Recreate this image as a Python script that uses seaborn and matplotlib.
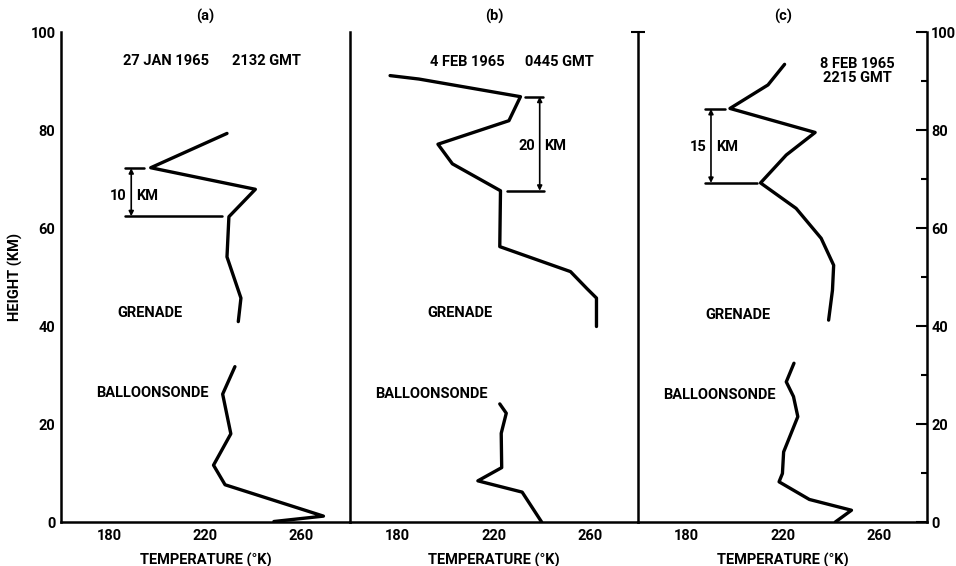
import matplotlib
matplotlib.use("Agg")
import matplotlib.pyplot as plt
import seaborn as sns
import numpy as np

# ---------------- data ----------------
panel_labels = ["(a)", "(b)", "(c)"]
date_labels = ["27 JAN 1965", "4 FEB 1965", "8 FEB 1965\n2215 GMT"]
time_labels = ["2132 GMT", "0445 GMT", ""]

# panel (a)
gren_a_T = [229.0, 197.3, 240.8, 229.8, 229.0, 234.8, 233.7]
gren_a_h = [79.3, 72.3, 67.9, 62.3, 54.1, 45.7, 40.9]
ball_a_T = [232.3, 227.2, 230.6, 223.4, 228.2, 269.1, 248.5]
ball_a_h = [31.7, 26.1, 18.0, 11.6, 7.6, 1.2, 0.1]

# panel (b)
gren_b_T = [176.8, 188.8, 231.0, 226.2, 196.7, 202.7, 222.7, 222.4, 251.8, 258.7, 262.6, 262.6]
gren_b_h = [91.1, 90.4, 86.8, 81.9, 77.1, 73.1, 67.6, 56.2, 51.1, 47.6, 45.7, 39.9]
ball_b_T = [222.4, 225.1, 223.0, 223.2, 213.3, 231.7, 239.8]
ball_b_h = [24.1, 22.2, 18.1, 11.1, 8.4, 6.1, 0.0]

# panel (c)
gren_c_T = [220.8, 213.9, 198.1, 233.5, 221.5, 210.8, 225.6, 236.0, 241.2, 240.7, 239.1]
gren_c_h = [93.4, 89.2, 84.4, 79.5, 74.9, 69.2, 64.0, 57.9, 52.4, 47.3, 41.2]
ball_c_T = [224.7, 221.5, 224.5, 226.3, 220.4, 219.9, 218.5, 231.1, 248.6, 241.9]
ball_c_h = [32.4, 28.6, 25.6, 21.5, 14.3, 9.9, 8.2, 4.6, 2.4, 0.0]

# layer-thickness markers
dim_num = ["10", "20", "15"]
dim_x = [189.2, 239.0, 190.2]
dim_top = [72.2, 86.8, 84.3]
dim_bot = [62.4, 67.6, 69.2]
dim_top_span = [(186.7, 194.5), (232.8, 240.3), (187.8, 196.1)]
dim_bot_span = [(186.7, 227.0), (225.2, 240.7), (187.8, 209.2)]
dim_text_h = [66.5, 76.8, 76.6]

date_pos = [(203.6, 94.0), (209.0, 93.9), (251.0, 92.0)]
time_pos = [(245.6, 94.0), (247.2, 93.9), (251.0, 92.0)]
gren_pos = [(197.0, 42.7), (205.7, 42.6), (201.5, 42.2)]
ball_pos = [(198.0, 26.3), (193.8, 26.1), (193.5, 25.9)]

x_major = [180, 220, 260]
x_minor = [200, 240]
y_major = [0, 20, 40, 60, 80, 100]
y_minor = [10, 30, 50, 70, 90]

# ---------------- style ----------------
sns.set_style("white")
plt.rcParams["font.family"] = ["Roboto", "DejaVu Sans"]
plt.rcParams["font.weight"] = "bold"
for k in ["text.color", "axes.labelcolor", "xtick.color", "ytick.color"]:
    plt.rcParams[k] = "black"
FS = 10.5
TXT = dict(fontsize=FS, fontweight="bold", color="black")

fig = plt.figure(figsize=(9.56, 5.66), dpi=100)
left, right = 61 / 956, 927 / 956
bottom, top = 1 - 522 / 566, 1 - 32 / 566
w = (right - left) / 3
axes = [fig.add_axes([left + i * w, bottom, w, top - bottom]) for i in range(3)]

grenades = [(gren_a_T, gren_a_h), (gren_b_T, gren_b_h), (gren_c_T, gren_c_h)]
balloons = [(ball_a_T, ball_a_h), (ball_b_T, ball_b_h), (ball_c_T, ball_c_h)]

for i, ax in enumerate(axes):
    gT, gh = grenades[i]
    bT, bh = balloons[i]
    sns.lineplot(x=gT, y=gh, sort=False, estimator=None, color="black", lw=2.4, ax=ax)
    sns.lineplot(x=bT, y=bh, sort=False, estimator=None, color="black", lw=2.4, ax=ax)

    ax.set_xlim(160, 280)
    ax.set_ylim(0, 100)
    ax.set_facecolor("white")
    for s in ["top", "right"]:
        ax.spines[s].set_visible(False)
    for s in ["left", "bottom", "right"]:
        ax.spines[s].set_color("black")
        ax.spines[s].set_linewidth(1.8)

    # x axis
    ax.set_xticks(x_major)
    ax.set_xticks(x_minor, minor=True)
    ax.set_xticklabels([str(v) for v in x_major])
    ax.tick_params(axis="x", which="major", direction="in", length=8, width=1.5,
                   labelsize=FS, pad=5)
    ax.tick_params(axis="x", which="minor", direction="in", length=4, width=1.5)
    for lab in ax.get_xticklabels():
        lab.set_fontweight("bold")
    ax.set_xlabel("TEMPERATURE (°K)", fontsize=FS, fontweight="bold", labelpad=7)

    # dimension marker
    ax.plot(dim_top_span[i], [dim_top[i]] * 2, color="black", lw=1.8)
    ax.plot(dim_bot_span[i], [dim_bot[i]] * 2, color="black", lw=1.8)
    ax.annotate("", xy=(dim_x[i], dim_top[i]), xytext=(dim_x[i], dim_bot[i]),
                arrowprops=dict(arrowstyle="<|-|>", color="black", lw=1.2,
                                mutation_scale=7, shrinkA=0, shrinkB=0))
    ax.annotate(dim_num[i], (dim_x[i], dim_text_h[i]), xytext=(-3.5, 0),
                textcoords="offset points", ha="right", va="center", **TXT)
    ax.annotate("KM", (dim_x[i], dim_text_h[i]), xytext=(3.5, 0),
                textcoords="offset points", ha="left", va="center", **TXT)

    ax.text(*date_pos[i], date_labels[i], ha="center", va="center",
            linespacing=1.0, **TXT)
    if time_labels[i]:
        ax.text(*time_pos[i], time_labels[i], ha="center", va="center", **TXT)
    ax.text(*gren_pos[i], "GRENADE", ha="center", va="center", **TXT)
    ax.text(*ball_pos[i], "BALLOONSONDE", ha="center", va="center", **TXT)
    ax.set_title(panel_labels[i], fontsize=FS, fontweight="bold", pad=8)

# y axis on panel (a)
axa = axes[0]
axa.set_yticks(y_major)
axa.set_yticks(y_minor, minor=True)
axa.set_yticklabels([str(v) for v in y_major])
axa.tick_params(axis="y", which="major", direction="in", length=8, width=1.5,
                labelsize=FS, pad=4)
axa.tick_params(axis="y", which="minor", direction="in", length=4, width=1.5)
for lab in axa.get_yticklabels():
    lab.set_fontweight("bold")
axa.set_ylabel("HEIGHT (KM)", fontsize=FS, fontweight="bold", labelpad=5)

# middle spines: only a T-cap at the top
for ax in axes[1:]:
    ax.set_yticks([100])
    ax.set_yticklabels([""])
    ax.tick_params(axis="y", which="major", direction="inout", length=10, width=1.5)
    ax.set_ylabel("")

# right y axis on panel (c)
axc = axes[2]
axr = axc.twinx()
axr.set_ylim(0, 100)
for s in ["top", "left", "bottom"]:
    axr.spines[s].set_visible(False)
axr.spines["right"].set_linewidth(1.8)
axr.spines["right"].set_color("black")
axr.set_yticks(y_major)
axr.set_yticks(y_minor, minor=True)
axr.set_yticklabels([str(v) for v in y_major])
axr.tick_params(axis="y", which="major", direction="in", length=8, width=1.5,
                labelsize=FS, pad=3)
axr.tick_params(axis="y", which="minor", direction="in", length=4, width=1.5)
for lab in axr.get_yticklabels():
    lab.set_fontweight("bold")

fig.savefig("out.png", dpi=100, facecolor="white")
